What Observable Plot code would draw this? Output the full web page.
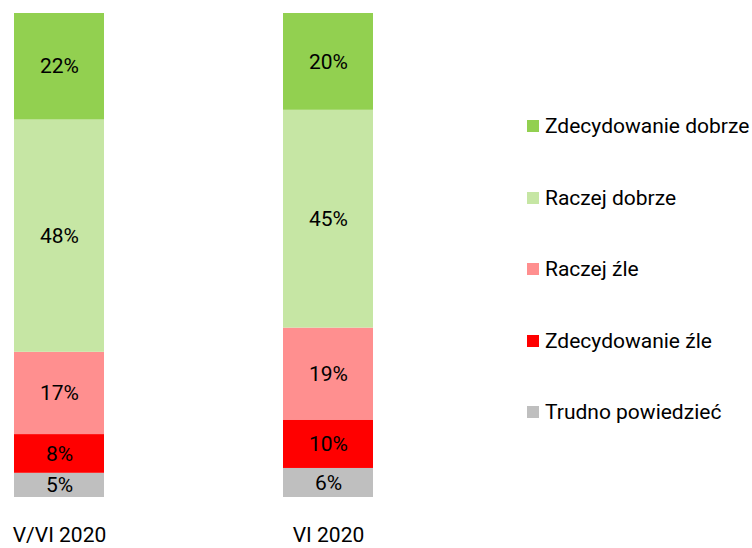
<!DOCTYPE html>
<html><head><meta charset="utf-8">
<script src="https://cdn.jsdelivr.net/npm/d3@7"></script>
<script src="https://cdn.jsdelivr.net/npm/@observablehq/plot@0.6"></script>
<style>
body{margin:0;font-family:Roboto,sans-serif;background:#fff}
#wrap{position:relative;width:752px;height:548px}
#legend{position:absolute;left:527px;top:90.5px}
.item{height:71.5px;display:flex;align-items:center;font-size:21px;color:#000;white-space:nowrap}
.sw{width:12px;height:12px;margin-right:6px;flex:none}
</style></head><body><div id="wrap"><div id="legend"></div></div>
<script>
const periods = ["V/VI 2020", "VI 2020"];
// bottom to top of each stack
const categories = ["Trudno powiedzieć", "Zdecydowanie źle", "Raczej źle", "Raczej dobrze", "Zdecydowanie dobrze"];
const valuesVVI = [5, 8, 17, 48, 22];
const valuesVI = [6, 10, 19, 45, 20];
const colors = ["#bfbfbf", "#ff0000", "#ff8f8f", "#c6e6a4", "#92d050"];

const data = [];
categories.forEach((c, i) => {
  data.push({period: periods[0], category: c, value: valuesVVI[i]});
  data.push({period: periods[1], category: c, value: valuesVI[i]});
});

const plot = Plot.plot({
  width: 752, height: 548,
  marginTop: 13, marginBottom: 51, marginLeft: 0, marginRight: 0,
  style: {fontFamily: "Roboto, sans-serif", fontSize: "21px", background: "white", color: "black"},
  x: {domain: periods, range: [13, 373], paddingInner: 2/3, paddingOuter: 0, label: null, tickSize: 0, tickPadding: 30},
  y: {domain: [0, 100], axis: null},
  color: {domain: categories, range: colors},
  marks: [
    Plot.barY(data, {x: "period", y: "value", fill: "category", order: categories}),
    Plot.text(data, Plot.stackY({x: "period", y: "value", z: "category", order: categories,
      text: d => d.value + "%", fill: "black", fontSize: 21}))
  ]
});
document.getElementById("wrap").prepend(plot);

const legend = document.getElementById("legend");
[...categories].reverse().forEach(c => {
  const item = document.createElement("div");
  item.className = "item";
  const sw = document.createElement("span");
  sw.className = "sw";
  sw.style.background = colors[categories.indexOf(c)];
  const t = document.createElement("span");
  t.textContent = c;
  item.append(sw, t);
  legend.append(item);
});
</script>
</body></html>
